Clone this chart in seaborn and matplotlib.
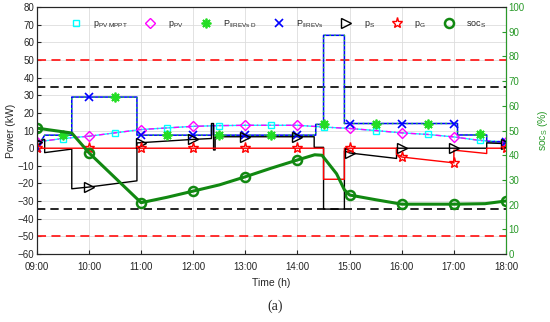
import matplotlib
matplotlib.use('Agg')
import matplotlib.pyplot as plt
import numpy as np
import pandas as pd
import seaborn as sns
from matplotlib.lines import Line2D

# time axes (hours)
t_hours = [9, 10, 11, 12, 13, 14, 15, 16, 17, 18]
t_half = [9.5, 10.5, 11.5, 12.5, 13.5, 14.5, 15.5, 16.5, 17.5]
hour_labels = ['09:00', '10:00', '11:00', '12:00', '13:00', '14:00', '15:00', '16:00', '17:00', '18:00']

# PV power (half-hour grid)
t_pv = [9, 9.5, 10, 10.5, 11, 11.5, 12, 12.5, 13, 13.5, 14, 14.5, 15, 15.5, 16, 16.5, 17, 17.5, 18]
p_pv_mppt = [3.6, 5.5, 6.8, 8.7, 10.6, 11.5, 12.4, 12.8, 13, 13, 13, 12, 11.2, 10, 8.7, 7.8, 6.4, 4.4, 3.6]
p_pv = [3.6, 5.5, 6.8, 8.7, 10.6, 11.5, 12.4, 12.8, 13, 13, 13, 12, 11.2, 10, 8.7, 7.8, 6.4, 4.4, 3.6]

# EV power profile
t_ev = [9.0, 9.15, 9.67, 9.67, 10.92, 10.92, 12.35, 12.35, 12.39, 12.39, 14.35, 14.35, 14.5, 14.5,
        14.9, 14.9, 17.07, 17.07, 17.63, 17.63, 18.0]
p_ev = [0, 7.4, 7.4, 29, 29, 7.4, 7.4, 13, 13, 7.4, 7.4, 13.5, 13.5, 64,
        64, 14, 14, 7.5, 7.5, 3.6, 3.6]
p_ev_d = p_ev
ev_d_marks = [7.4, 29, 7.4, 7.4, 7.4, 14, 14, 14, 7.8]
ev_marks = [0, 29, 7.4, 7.4, 7.4, 7.4, 14, 14, 14, 3.6]

# storage power
t_s = [9.0, 9.15, 9.15, 9.67, 9.67, 10.0, 10.92, 10.92, 12.0, 12.35, 12.35, 12.39, 12.39, 12.42, 12.42,
       14.32, 14.32, 14.5, 14.5, 14.9, 14.9, 15.0, 15.9, 15.9, 17.63, 17.63, 18.0]
p_s = [3.6, 5, -2.5, -0.5, -23, -22, -18.5, 3, 5, 5.5, 14, 14, -1, -1, 6.5,
       6.5, 0.5, 0.5, -34.5, -34.5, -1.5, -2.7, -5.8, 0, 0, 3, 2.6]
s_marks = [3.6, -22, 3, 5, 6.3, 6.4, -2.7, 0, 0, 2.6]

# grid power
t_g = [9.0, 14.5, 14.5, 14.9, 14.9, 15.9, 15.9, 16.0, 17.0, 17.0, 17.63, 17.63, 18.0]
p_g = [0, 0, -17.6, -17.6, 0, 0, -3.4, -5, -8.3, -1.1, -3, 0, 0]
g_marks = [0, 0, 0, 0, 0, 0, 0, -5, -8.3, 0]

# storage state of charge (%)
t_soc = [9, 9.67, 10, 11, 11.5, 12, 12.5, 13, 13.5, 14, 14.33, 14.47, 14.75, 14.9, 15, 15.5, 16, 17, 17.6, 18]
soc = [51, 49, 41, 20.8, 23, 25.5, 28, 31.3, 34.8, 38.1, 40.2, 40, 32.5, 26, 23.9, 22, 20.2, 20.2, 20.4, 21.5]
soc_marks = [51, 41, 20.8, 25.5, 31.3, 38.1, 23.9, 20.2, 20.2, 21.5]

limits_black = [34.5, -34.5]
limits_red = [50, -50]

sns.set_style('ticks')
plt.rcParams['font.family'] = ['Liberation Sans', 'DejaVu Sans']
plt.rcParams['mathtext.default'] = 'regular'

fig = plt.figure(figsize=(5.5, 3.22), dpi=100)
ax = fig.add_axes([0.067, 0.211, 0.853, 0.767])
ax2 = ax.twinx()

for v in limits_red:
    ax.axhline(v, color='#ff2020', ls=(0, (5, 3)), lw=1.3)
for v in limits_black:
    ax.axhline(v, color='black', ls=(0, (5, 3)), lw=1.2)

# lines
sns.lineplot(x=t_pv, y=p_pv_mppt, ax=ax, color='cyan', lw=1.0, sort=False, estimator=None)
sns.lineplot(x=t_pv, y=p_pv, ax=ax, color='magenta', lw=1.0, ls=(0, (4, 2, 1, 2)), sort=False, estimator=None)
sns.lineplot(x=t_ev, y=p_ev, ax=ax, color='blue', lw=1.1, sort=False, estimator=None)
sns.lineplot(x=t_ev, y=p_ev_d, ax=ax, color='#22dd22', lw=1.0, ls=(0, (1, 2.5)), sort=False, estimator=None)
sns.lineplot(x=t_s, y=p_s, ax=ax, color='black', lw=1.0, sort=False, estimator=None)
sns.lineplot(x=t_g, y=p_g, ax=ax, color='red', lw=1.0, sort=False, estimator=None)

# markers
mk = dict(ls='none', sort=False, estimator=None, ax=ax)
sns.lineplot(x=t_half, y=p_pv_mppt[1::2], marker='s', ms=5, mfc='none', mec='cyan', mew=1.0, **mk)
sns.lineplot(x=t_hours, y=p_pv[0::2], marker='D', ms=5.5, mfc='none', mec='magenta', mew=1.0, **mk)
sns.lineplot(x=t_half, y=ev_d_marks, marker=(8, 2, 0), ms=7, mec='#22dd22', mew=1.3, color='#22dd22', **mk)
sns.lineplot(x=t_hours, y=ev_marks, marker='x', ms=5.5, mec='blue', mew=1.2, color='blue', **mk)
sns.lineplot(x=t_hours, y=s_marks, marker='>', ms=6.5, mfc='none', mec='black', mew=1.0, **mk)
sns.lineplot(x=t_hours, y=g_marks, marker='*', ms=8, mfc='none', mec='red', mew=1.0, **mk)

soc_color = '#118811'
sns.lineplot(x=t_soc, y=soc, ax=ax2, color=soc_color, lw=2.2, sort=False, estimator=None)
sns.lineplot(x=t_hours, y=soc_marks, ax=ax2, ls='none', marker='o', ms=6.5, mfc='none',
             mec=soc_color, mew=1.8, sort=False, estimator=None)

ax.set_xlim(9, 18)
ax.set_ylim(-60, 80)
ax.set_yticks(np.arange(-60, 81, 10))
ax.set_xticks(t_hours)
ax.set_xticklabels(hour_labels)
ax2.set_ylim(0, 100)
ax2.set_yticks(np.arange(0, 101, 10))
ax.grid(True, color='#dddddd', lw=0.6)
ax.set_axisbelow(True)

ax.tick_params(axis='both', direction='in', labelsize=7, length=3, pad=2)
ax.tick_params(axis='x', pad=6)
ax2.tick_params(axis='y', direction='in', labelsize=7, length=3, colors='#2a9a2a', pad=2)
ax2.spines['right'].set_color('#2a9a2a')
for sp in ['top', 'right']:
    ax.spines[sp].set_visible(True)
ax2.spines['top'].set_visible(True)

ax.set_xlabel('Time (h)', fontsize=7.5, labelpad=4)
ax.set_ylabel('Power (kW)', fontsize=7.5, labelpad=1)
ax2.set_ylabel('soc$_S$ (%)', fontsize=7.5, color='#2a9a2a', labelpad=8)

handles = [
    Line2D([], [], ls='none', marker='s', ms=5, mfc='none', mec='cyan'),
    Line2D([], [], ls='none', marker='D', ms=5.5, mfc='none', mec='magenta'),
    Line2D([], [], ls='none', marker=(8, 2, 0), ms=7, mec='#22dd22', mew=1.3),
    Line2D([], [], ls='none', marker='x', ms=5.5, mec='blue', mew=1.2),
    Line2D([], [], ls='none', marker='>', ms=6.5, mfc='none', mec='black'),
    Line2D([], [], ls='none', marker='*', ms=8, mfc='none', mec='red'),
    Line2D([], [], ls='none', marker='o', ms=6.5, mfc='none', mec=soc_color, mew=1.8),
]
labels = ['p$_{PV\\ MPPT}$', 'p$_{PV}$', 'P$_{IIREVs\\ D}$', 'P$_{IIREVs}$', 'p$_S$', 'p$_G$', 'soc$_S$']
ax2.legend(handles, labels, loc='center', bbox_to_anchor=(0.515, 0.93), ncol=7, frameon=False,
           fontsize=6.5, handlelength=1.0, handletextpad=1.4, columnspacing=2.0)

fig.text(0.5, 0.05, '(a)', ha='center', va='center', fontsize=10, family='Liberation Serif')

fig.savefig('out.png', dpi=100)
